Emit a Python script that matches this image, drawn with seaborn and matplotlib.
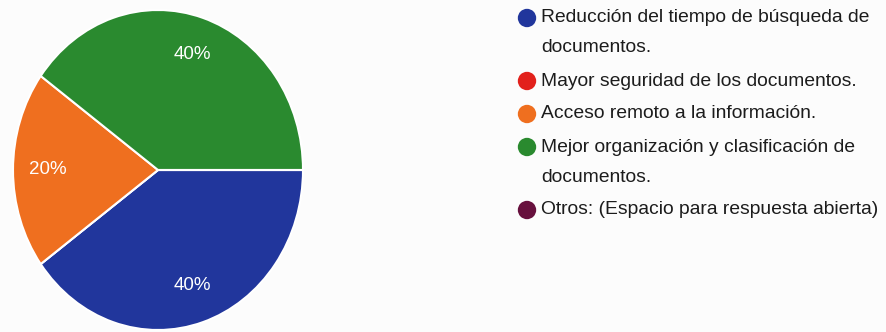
import matplotlib
matplotlib.use("Agg")
import matplotlib.pyplot as plt
import seaborn as sns

# Survey answers and their shares (%)
categories = [
    "Reducción del tiempo de búsqueda de\ndocumentos.",
    "Mayor seguridad de los documentos.",
    "Acceso remoto a la información.",
    "Mejor organización y clasificación de\ndocumentos.",
    "Otros: (Espacio para respuesta abierta)",
]
shares = [40, 0, 20, 40, 0]
colors = ["#21369c", "#e2211c", "#ef6f1f", "#2a8a2f", "#67103d"]

sns.set_theme(style="white")
plt.rcParams["font.family"] = ["Liberation Sans", "DejaVu Sans"]

W, H = 887, 332
fig = plt.figure(figsize=(W / 100, H / 100), dpi=100)
fig.patch.set_facecolor("#fcfcfc")

# Pie axes (slightly taller than wide)
left, right, top, bottom = 13, 303, 10, 330
ax = fig.add_axes([left / W, 1 - bottom / H, (right - left) / W, (bottom - top) / H])
wedges, texts, autotexts = ax.pie(
    shares,
    colors=colors,
    startangle=0,
    counterclock=False,
    autopct=lambda p: f"{p:.0f}%" if p > 0 else "",
    pctdistance=0.76,
    wedgeprops=dict(edgecolor="white", linewidth=1.5),
    textprops=dict(color="white", fontsize=13.5),
)
ax.set_aspect("auto")
ax.set_xlim(-1, 1)
ax.set_ylim(-1, 1)
ax.axis("off")

# Legend drawn in a pixel-based axes
lax = fig.add_axes([0, 0, 1, 1])
lax.set_xlim(0, W)
lax.set_ylim(H, 0)
lax.axis("off")
lax.patch.set_alpha(0)

line_h = 30
item_gap = 33
y = 18
for label, color in zip(categories, colors):
    lax.scatter([527], [y], s=175, color=color, edgecolor="none", zorder=3)
    lines = label.split("\n")
    for i, ln in enumerate(lines):
        lax.text(541, y + i * line_h, ln, fontsize=13.9, color="#1c1c1c",
                 va="center", ha="left")
    y += (len(lines) - 1) * line_h + item_gap

fig.savefig("out.png", dpi=100, facecolor=fig.get_facecolor())
